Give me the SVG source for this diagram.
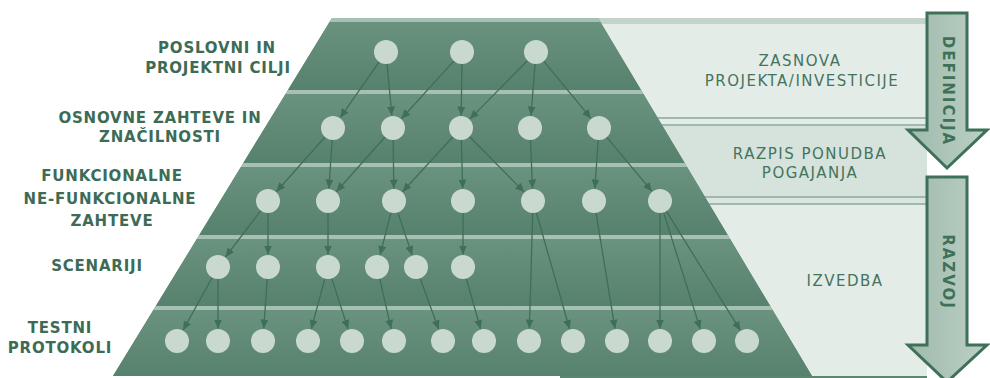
<svg xmlns="http://www.w3.org/2000/svg" width="990" height="378" viewBox="0 0 990 378">
<style>
.lbl{font-family:"DejaVu Sans","Liberation Sans",sans-serif;font-size:15px;font-weight:bold;fill:#3d6b55;letter-spacing:0.8px;text-anchor:middle}
.rl{font-family:"DejaVu Sans","Liberation Sans",sans-serif;font-size:15px;fill:#44745d;letter-spacing:1.5px;text-anchor:middle}
.al{font-family:"DejaVu Sans","Liberation Sans",sans-serif;font-size:15px;font-weight:bold;fill:#3f7058;letter-spacing:2px;text-anchor:middle;dominant-baseline:central}
.nd{fill:#c9d9d0}
.stripe{fill:#a6c0b3}
.band{fill:url(#bandG)}
.big{fill:url(#arrG);stroke:#3f7058;stroke-width:3;stroke-linejoin:miter}
#edges line{stroke:#3f6f57;stroke-width:1.3;marker-end:url(#ah)}
</style>
<defs>
<linearGradient id="bandG" x1="0" y1="0" x2="0" y2="1">
<stop offset="0" stop-color="#6a937f"/>
<stop offset="1" stop-color="#56816c"/>
</linearGradient>
<linearGradient id="arrG" x1="0" y1="0" x2="1" y2="0">
<stop offset="0" stop-color="#9fbaac"/>
<stop offset="1" stop-color="#bcd0c5"/>
</linearGradient>
<clipPath id="pyr">
<polygon points="332,18 598,18 812,376 113,376"/>
</clipPath>
<marker id="ah" markerUnits="userSpaceOnUse" markerWidth="9" markerHeight="8" refX="9" refY="4" orient="auto">
<path d="M0,0 L9,4 L0,8 z" fill="#3f6f57"/>
</marker>
</defs>
<rect width="990" height="378" fill="#ffffff"/>
<g id="panel">
<rect x="560" y="18" width="367" height="100" fill="#e4ece8"/>
<rect x="560" y="18" width="367" height="6" fill="#c3d4cb"/>
<rect x="560" y="117" width="367" height="2" fill="#9fb9ac"/>
<rect x="560" y="119" width="367" height="5" fill="#e4ece8"/>
<rect x="560" y="124" width="367" height="2" fill="#9fb9ac"/>
<rect x="560" y="126" width="367" height="71" fill="#d6e2dc"/>
<rect x="560" y="196" width="367" height="2" fill="#9fb9ac"/>
<rect x="560" y="198" width="367" height="5" fill="#dbe5e0"/>
<rect x="560" y="203" width="367" height="2" fill="#9fb9ac"/>
<rect x="560" y="205" width="367" height="171" fill="#e4ece8"/>
<rect x="560" y="376" width="367" height="2" fill="#5b8771"/>
</g>
<g id="pyramid" clip-path="url(#pyr)">
<rect x="100" y="18" width="720" height="360" fill="#5b8771"/>
<rect class="band" x="100" y="22" width="720" height="68"/>
<rect class="band" x="100" y="94" width="720" height="69"/>
<rect class="band" x="100" y="167" width="720" height="68"/>
<rect class="band" x="100" y="239" width="720" height="67"/>
<rect class="band" x="100" y="310" width="720" height="68"/>
<rect class="stripe" x="100" y="18" width="720" height="4"/>
<rect class="stripe" x="100" y="90" width="720" height="4"/>
<rect class="stripe" x="100" y="163" width="720" height="4"/>
<rect class="stripe" x="100" y="235" width="720" height="4"/>
<rect class="stripe" x="100" y="306" width="720" height="4"/>
</g>
<g id="edges">
<line x1="379.1" y1="61.8" x2="340.2" y2="117.7"/>
<line x1="387.1" y1="64" x2="391.8" y2="115.5"/>
<line x1="453.9" y1="60.9" x2="401.4" y2="118.7"/>
<line x1="461.9" y1="64" x2="461.2" y2="115.5"/>
<line x1="527.6" y1="60.5" x2="469.8" y2="119.1"/>
<line x1="535.1" y1="64" x2="531" y2="115.5"/>
<line x1="543.7" y1="61.2" x2="591" y2="118.4"/>
<line x1="325" y1="137" x2="276.3" y2="191.7"/>
<line x1="332.2" y1="140" x2="328.9" y2="188.5"/>
<line x1="385" y1="137" x2="336.3" y2="191.7"/>
<line x1="393.2" y1="140" x2="393.8" y2="188.5"/>
<line x1="452.9" y1="136.8" x2="402.5" y2="191.8"/>
<line x1="461.3" y1="140" x2="462.7" y2="188.5"/>
<line x1="469.4" y1="136.5" x2="524.2" y2="192.1"/>
<line x1="530.5" y1="140" x2="532.5" y2="188.5"/>
<line x1="598.2" y1="140" x2="594.9" y2="188.5"/>
<line x1="606.7" y1="137.2" x2="652" y2="191.4"/>
<line x1="260.8" y1="210.6" x2="225.5" y2="257"/>
<line x1="268" y1="213" x2="268" y2="254.5"/>
<line x1="328" y1="213" x2="328" y2="254.5"/>
<line x1="391" y1="212.6" x2="380.1" y2="254.9"/>
<line x1="397.8" y1="212.4" x2="412.1" y2="255.1"/>
<line x1="463" y1="213" x2="463" y2="254.5"/>
<line x1="532.7" y1="213" x2="529.4" y2="328.5"/>
<line x1="536.3" y1="212.5" x2="569.6" y2="329"/>
<line x1="596" y1="212.8" x2="615" y2="328.7"/>
<line x1="660" y1="213" x2="660" y2="328.5"/>
<line x1="663.6" y1="212.4" x2="700.3" y2="329.1"/>
<line x1="666.3" y1="211.2" x2="740.4" y2="330.4"/>
<line x1="212.2" y1="277.5" x2="183.1" y2="330.1"/>
<line x1="218" y1="279" x2="218" y2="328.5"/>
<line x1="267.2" y1="279" x2="263.8" y2="328.5"/>
<line x1="324.9" y1="278.6" x2="311.3" y2="328.9"/>
<line x1="331.7" y1="278.4" x2="348.1" y2="329.1"/>
<line x1="379.7" y1="278.7" x2="391.2" y2="328.8"/>
<line x1="420.1" y1="278.3" x2="438.7" y2="329.3"/>
<line x1="466.3" y1="278.5" x2="480.6" y2="329"/>
</g>
<g id="nodes">
<g id="n1"><circle class="nd" cx="386" cy="52" r="12"/><circle class="nd" cx="462" cy="52" r="12"/><circle class="nd" cx="536" cy="52" r="12"/></g>
<g id="n2"><circle class="nd" cx="333" cy="128" r="12"/><circle class="nd" cx="393" cy="128" r="12"/><circle class="nd" cx="461" cy="128" r="12"/><circle class="nd" cx="530" cy="128" r="12"/><circle class="nd" cx="599" cy="128" r="12"/></g>
<g id="n3"><circle class="nd" cx="268" cy="201" r="12"/><circle class="nd" cx="328" cy="201" r="12"/><circle class="nd" cx="394" cy="201" r="12"/><circle class="nd" cx="463" cy="201" r="12"/><circle class="nd" cx="533" cy="201" r="12"/><circle class="nd" cx="594" cy="201" r="12"/><circle class="nd" cx="660" cy="201" r="12"/></g>
<g id="n4"><circle class="nd" cx="218" cy="267" r="12"/><circle class="nd" cx="268" cy="267" r="12"/><circle class="nd" cx="328" cy="267" r="12"/><circle class="nd" cx="377" cy="267" r="12"/><circle class="nd" cx="416" cy="267" r="12"/><circle class="nd" cx="463" cy="267" r="12"/></g>
<g id="n5"><circle class="nd" cx="177" cy="341" r="12"/><circle class="nd" cx="218" cy="341" r="12"/><circle class="nd" cx="263" cy="341" r="12"/><circle class="nd" cx="308" cy="341" r="12"/><circle class="nd" cx="352" cy="341" r="12"/><circle class="nd" cx="394" cy="341" r="12"/><circle class="nd" cx="443" cy="341" r="12"/><circle class="nd" cx="484" cy="341" r="12"/><circle class="nd" cx="529" cy="341" r="12"/><circle class="nd" cx="573" cy="341" r="12"/><circle class="nd" cx="617" cy="341" r="12"/><circle class="nd" cx="660" cy="341" r="12"/><circle class="nd" cx="704" cy="341" r="12"/><circle class="nd" cx="747" cy="341" r="12"/></g>
</g>
<g id="labels-left">
<text class="lbl" x="217" y="52.5">POSLOVNI IN</text>
<text class="lbl" x="218" y="72.5">PROJEKTNI CILJI</text>
<text class="lbl" x="160" y="122.5">OSNOVNE ZAHTEVE IN</text>
<text class="lbl" x="160" y="141.5">ZNAČILNOSTI</text>
<text class="lbl" x="112" y="180.5">FUNKCIONALNE</text>
<text class="lbl" x="110" y="203.5">NE-FUNKCIONALNE</text>
<text class="lbl" x="112" y="225.5">ZAHTEVE</text>
<text class="lbl" x="97" y="270.5">SCENARIJI</text>
<text class="lbl" x="60" y="332.5">TESTNI</text>
<text class="lbl" x="60" y="352.5">PROTOKOLI</text>
</g>
<g id="labels-right">
<text class="rl" x="800" y="65.5">ZASNOVA</text>
<text class="rl" x="802" y="85.5">PROJEKTA/INVESTICIJE</text>
<text class="rl" x="810" y="158.5">RAZPIS PONUDBA</text>
<text class="rl" x="810" y="177.5">POGAJANJA</text>
<text class="rl" x="845" y="285.5">IZVEDBA</text>
</g>
<g id="arrow-definicija">
<polygon class="big" points="927,13 967,13 967,130 987,130 947,168 908,130 927,130"/>
<text class="al" transform="translate(948,91) rotate(90)">DEFINICIJA</text>
</g>
<g id="arrow-razvoj">
<polygon class="big" points="927,177 967,177 967,345 987,345 947,382 908,345 927,345"/>
<text class="al" transform="translate(948,272) rotate(90)">RAZVOJ</text>
</g>
</svg>
